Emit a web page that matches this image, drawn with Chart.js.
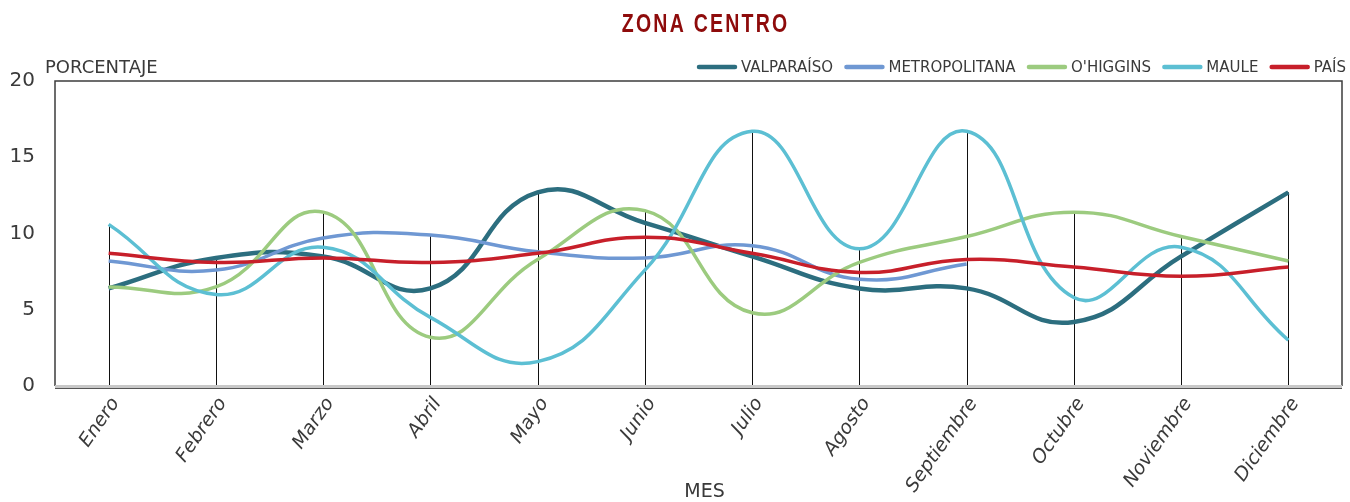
<!DOCTYPE html>
<html>
<head>
<meta charset="utf-8">
<title>Zona Centro</title>
<script src="https://cdn.jsdelivr.net/npm/chart.js@4/dist/chart.umd.min.js"></script>
<style>
  html, body { margin: 0; padding: 0; background: #ffffff; }
  #wrap { width: 1350px; height: 502px; }
</style>
</head>
<body>
<div id="wrap"><canvas id="c" width="1350" height="502"></canvas></div>
<script>
// Monthly percentages per region (central zone) and national reference
const meses = ['Enero', 'Febrero', 'Marzo', 'Abril', 'Mayo', 'Junio', 'Julio', 'Agosto', 'Septiembre', 'Octubre', 'Noviembre', 'Diciembre'];
const valparaiso    = [6.4, 8.4, 8.5, 6.4, 12.7, 10.7, 8.5, 6.4, 6.4, 4.2, 8.5, 12.7];
const metropolitana = [8.2, 7.6, 9.7, 9.9, 8.8, 8.4, 9.2, 7.0, 8.0, null, null, null];
const ohiggins      = [6.5, 6.5, 11.4, 3.2, 8.3, 11.5, 4.8, 8.1, 9.8, 11.4, 9.8, 8.2];
const maule         = [10.6, 6.0, 9.1, 4.5, 1.6, 7.6, 16.7, 9.0, 16.7, 5.8, 9.1, 3.0];
const pais          = [8.7, 8.1, 8.4, 8.1, 8.7, 9.75, 8.7, 7.45, 8.3, 7.8, 7.2, 7.8];
const yTicks = [0, 5, 10, 15, 20];

const tituloGrafico = 'ZONA CENTRO';
const tituloY = 'PORCENTAJE';
const tituloX = 'MES';

const series = [
  { label: 'VALPARAÍSO',    data: valparaiso,    color: '#2c6e7f', width: 4.5 },
  { label: 'METROPOLITANA', data: metropolitana, color: '#6f98d3', width: 3.5 },
  { label: "O'HIGGINS",     data: ohiggins,      color: '#9ccb7f', width: 3.5 },
  { label: 'MAULE',         data: maule,         color: '#5cbfd3', width: 3.5 },
  { label: 'PAÍS',          data: pais,          color: '#c71f2a', width: 3.5 }
];

const FONT = '"DejaVu Sans", "Liberation Sans", sans-serif';
const TEXT = '#3a3a3a';

// Drop lines, frame, month labels, title, legend and axis titles
const decor = {
  id: 'decor',
  beforeDatasetsDraw(chart) {
    const { ctx, scales: { x, y } } = chart;
    ctx.save();
    // vertical drop lines from the highest value of each month down to zero
    ctx.strokeStyle = '#111111';
    ctx.lineWidth = 1;
    meses.forEach((m, i) => {
      let top = null;
      chart.data.datasets.forEach(ds => {
        const v = ds.data[i];
        if (v !== null && v !== undefined && (top === null || v > top)) top = v;
      });
      if (top === null) return;
      const px = Math.round(x.getPixelForValue(i)) + 0.5;
      ctx.beginPath();
      ctx.moveTo(px, y.getPixelForValue(top));
      ctx.lineTo(px, y.getPixelForValue(0));
      ctx.stroke();
    });
    ctx.restore();
  },
  afterDraw(chart) {
    const { ctx, chartArea: a, scales: { x } } = chart;
    ctx.save();
    // plot frame
    ctx.strokeStyle = '#3c3c3c';
    ctx.lineWidth = 1.5;
    ctx.beginPath();
    ctx.moveTo(a.left, a.bottom);
    ctx.lineTo(a.left, a.top);
    ctx.lineTo(a.right, a.top);
    ctx.lineTo(a.right, a.bottom);
    ctx.stroke();
    ctx.fillStyle = '#c8c8c8';
    ctx.fillRect(a.left, a.bottom - 1, a.right - a.left, 3);
    ctx.fillStyle = '#555555';
    ctx.fillRect(a.left, a.bottom + 2, a.right - a.left, 1);

    // rotated month labels under each category
    ctx.fillStyle = TEXT;
    ctx.font = 'italic 19px ' + FONT;
    ctx.textAlign = 'right';
    ctx.textBaseline = 'middle';
    meses.forEach((m, i) => {
      const px = x.getPixelForValue(i);
      ctx.save();
      ctx.translate(px + 7, a.bottom + 14);
      ctx.rotate(-55 * Math.PI / 180);
      ctx.fillText(m, 0, 0);
      ctx.restore();
    });

    // chart title (condensed bold)
    const cx = (a.left + a.right) / 2;
    ctx.save();
    ctx.translate(cx + 6, 32);
    ctx.scale(0.75, 1);
    ctx.fillStyle = '#8e0b0b';
    ctx.font = 'bold 26px "Liberation Sans", "DejaVu Sans", sans-serif';
    if ('letterSpacing' in ctx) ctx.letterSpacing = '3px';
    ctx.textAlign = 'center';
    ctx.textBaseline = 'alphabetic';
    ctx.fillText(tituloGrafico, 1.5, 0);
    ctx.restore();

    // axis titles
    ctx.fillStyle = TEXT;
    ctx.font = '18px ' + FONT;
    ctx.textAlign = 'left';
    ctx.textBaseline = 'alphabetic';
    ctx.fillText(tituloY, 45, 73);
    ctx.font = '19px ' + FONT;
    ctx.textAlign = 'center';
    ctx.fillText(tituloX, cx + 6, 497);

    // legend, spread across the band above the plot
    ctx.font = '15px ' + FONT;
    const sample = 40, gapText = 4;
    const legLeft = 697, legRight = a.right + 4;
    const widths = series.map(s => sample + gapText + ctx.measureText(s.label).width);
    const used = widths.reduce((p, w) => p + w, 0);
    const gapItem = Math.max(4, (legRight - legLeft - used) / (series.length - 1));
    let lx = legRight - used - gapItem * (series.length - 1);
    const ly = 67;
    ctx.textAlign = 'left';
    ctx.textBaseline = 'middle';
    series.forEach((s, i) => {
      ctx.strokeStyle = s.color;
      ctx.lineWidth = 4.5;
      ctx.lineCap = 'round';
      ctx.beginPath();
      ctx.moveTo(lx + 2, ly);
      ctx.lineTo(lx + sample - 2, ly);
      ctx.stroke();
      ctx.fillStyle = TEXT;
      ctx.fillText(s.label, lx + sample + gapText, ly + 1);
      lx += widths[i] + gapItem;
    });
    ctx.restore();
  }
};

new Chart(document.getElementById('c'), {
  type: 'line',
  data: {
    labels: meses,
    datasets: series.map((s, i) => ({
      label: s.label,
      data: s.data,
      borderColor: s.color,
      backgroundColor: s.color,
      borderWidth: s.width,
      pointRadius: 0,
      pointHoverRadius: 0,
      tension: 0.45,
      fill: false,
      spanGaps: false,
      order: series.length - i
    }))
  },
  options: {
    responsive: false,
    animation: false,
    layout: { padding: { top: 81, left: 10, right: 8, bottom: 0 } },
    plugins: {
      legend: { display: false },
      title: { display: false },
      tooltip: { enabled: false }
    },
    scales: {
      x: {
        type: 'category',
        offset: true,
        grid: { display: false },
        border: { display: false },
        ticks: { display: false },
        afterFit(scale) { scale.height = 116; }
      },
      y: {
        min: 0,
        max: 20,
        grid: { display: false },
        border: { display: false },
        afterBuildTicks(scale) { scale.ticks = yTicks.map(v => ({ value: v })); },
        ticks: {
          padding: 12,
          color: TEXT,
          font: { family: FONT, size: 20 }
        },
        afterFit(scale) { scale.width = 45; }
      }
    }
  },
  plugins: [decor]
});
</script>
</body>
</html>
